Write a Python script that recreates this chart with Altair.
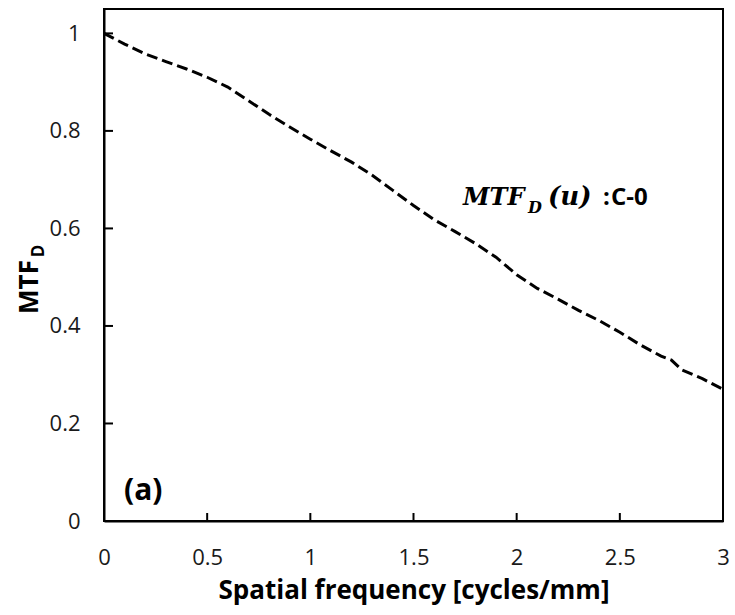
import altair as alt
import pandas as pd

# ---- data ----
freq = [0.0, 0.1, 0.2, 0.3, 0.4, 0.5, 0.6, 0.7, 0.8, 0.9, 1.0, 1.1, 1.2, 1.3, 1.4,
        1.5, 1.6, 1.7, 1.8, 1.9, 2.0, 2.1, 2.2, 2.3, 2.4, 2.5, 2.6, 2.7, 2.75, 2.8,
        2.9, 3.0]
mtf = [1.0, 0.978, 0.958, 0.942, 0.927, 0.91, 0.89, 0.862, 0.834, 0.808, 0.783,
       0.759, 0.736, 0.709, 0.678, 0.647, 0.618, 0.594, 0.569, 0.541, 0.505, 0.477,
       0.455, 0.432, 0.411, 0.387, 0.361, 0.338, 0.33, 0.31, 0.292, 0.27]
x_ticks = [0, 0.5, 1, 1.5, 2, 2.5, 3]
y_ticks = [0, 0.2, 0.4, 0.6, 0.8, 1.0]

df = pd.DataFrame({"freq": freq, "mtf": mtf})
xdf = pd.DataFrame({"freq": x_ticks})
ydf = pd.DataFrame({"mtf": y_ticks})

W, H = 619, 512
xs = alt.Scale(domain=[0, 3], nice=False, zero=False)
ys = alt.Scale(domain=[0, 1.05], nice=False)

SANS = "Open Sans"
SERIF = "DejaVu Serif"

xaxis = alt.Axis(values=x_ticks, format="~g", labelFlush=False,
                 title="Spatial frequency [cycles/mm]",
                 titleFont=SANS, titleFontSize=26, titleFontWeight="bold",
                 titleColor="black", titlePadding=9, labelPadding=26)
yaxis = alt.Axis(values=y_ticks, format="~g", labelFlush=False, title=None,
                 labelPadding=24)

line = alt.Chart(df).mark_line(
    color="black", strokeDash=[11, 5], strokeWidth=3
).encode(
    x=alt.X("freq:Q", scale=xs, axis=xaxis),
    y=alt.Y("mtf:Q", scale=ys, axis=yaxis),
)

xtick = alt.Chart(xdf).mark_rule(color="black", strokeWidth=2).encode(
    x=alt.X("freq:Q", scale=xs, axis=xaxis),
    y=alt.value(H), y2=alt.value(H - 8),
)
ytick = alt.Chart(ydf).mark_rule(color="black", strokeWidth=2).encode(
    y=alt.Y("mtf:Q", scale=ys, axis=yaxis),
    x=alt.value(0), x2=alt.value(9),
)


def txt(s, x, y, size, font=SANS, weight="bold", style="normal", angle=0,
        align="left", baseline="alphabetic"):
    return alt.Chart(pd.DataFrame({"t": [s]})).mark_text(
        font=font, fontSize=size, fontWeight=weight, fontStyle=style,
        angle=angle, align=align, baseline=baseline, color="black"
    ).encode(text="t:N", x=alt.value(x), y=alt.value(y))


annots = [
    # y axis title MTF_D
    txt("MTF", -66, 278, 26, angle=270, align="center"),
    txt("D", -60, 242, 17, angle=270, align="center"),
    # panel label
    txt("(a)", 20, 491, 30),
    # curve label MTF_D(u): C-0
    txt("MTF", 359, 196, 24, font=SERIF, style="italic"),
    txt("D", 424, 204, 16, font=SERIF, style="italic"),
    txt("(u)", 444, 196, 26, font=SERIF, style="italic"),
    txt(":", 499, 196, 24),
    txt("C-0", 507, 196, 24),
]

chart = alt.layer(line, xtick, ytick, *annots).properties(
    width=W, height=H,
    padding={"left": 104, "top": 9, "right": 12, "bottom": 94},
    autosize=alt.AutoSizeParams(type="none"),
).configure_view(
    stroke="black", strokeWidth=2
).configure_axis(
    grid=False, ticks=False, domainColor="black", domainWidth=2,
    labelFont=SANS, labelFontSize=22, labelColor="#1a1a1a",
)

chart.save("out.html", embed_options={"renderer": "svg", "actions": False})
